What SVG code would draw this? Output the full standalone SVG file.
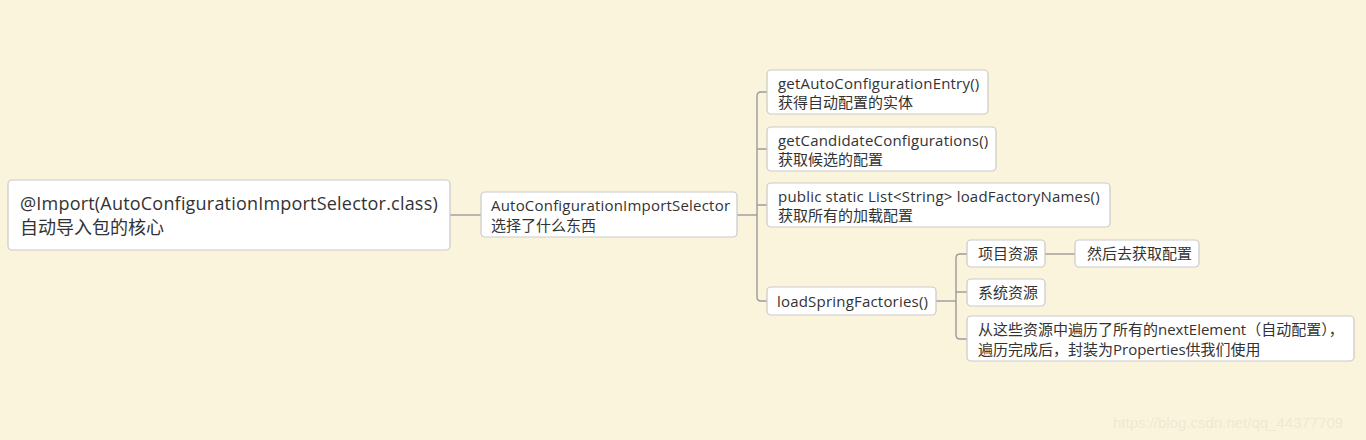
<svg xmlns="http://www.w3.org/2000/svg" width="1366" height="440" viewBox="0 0 1366 440">
<style>
.n{fill:#fff;stroke:#c9c9c9;stroke-width:1.2}
.t{font-family:"Open Sans","Noto Sans CJK SC",sans-serif;fill:#333;font-size:15px}
.big{font-size:18px}
.l{letter-spacing:0.2px}
.c{fill:none;stroke:#9a9a9a;stroke-width:1.4}
</style>
<rect width="1366" height="440" fill="#fbf4dc"/>
<g id="connectors">
<path class="c" d="M450,215H481"/>
<path class="c" d="M737,215H757"/>
<path class="c" d="M767,92H761Q757,92 757,96V297Q757,301 761,301H767"/>
<path class="c" d="M757,149H767M757,205H767"/>
<path class="c" d="M936,301H956"/>
<path class="c" d="M967,254H960Q956,254 956,258V335Q956,339 960,339H967"/>
<path class="c" d="M956,292H967"/>
<path class="c" d="M1045,254H1075"/>
</g>
<g id="root"><rect class="n" x="8" y="180" width="442" height="70" rx="4"/><text class="t big l" x="20" y="210">@Import(AutoConfigurationImportSelector.class)</text><text class="t big" x="20" y="234">自动导入包的核心</text></g>
<g id="selector"><rect class="n" x="481" y="192" width="256" height="45" rx="4"/><text class="t l" x="491" y="211">AutoConfigurationImportSelector</text><text class="t" x="491" y="231">选择了什么东西</text></g>
<g id="entry"><rect class="n" x="767" y="70" width="221" height="44" rx="4"/><text class="t l" x="778" y="89">getAutoConfigurationEntry()</text><text class="t" x="778" y="108">获得自动配置的实体</text></g>
<g id="candidate"><rect class="n" x="767" y="127" width="229" height="44" rx="4"/><text class="t l" x="778" y="146">getCandidateConfigurations()</text><text class="t" x="778" y="165">获取候选的配置</text></g>
<g id="loadnames"><rect class="n" x="767" y="183" width="343" height="44" rx="4"/><text class="t l" x="778" y="202">public static List&lt;String&gt; loadFactoryNames()</text><text class="t" x="778" y="221">获取所有的加载配置</text></g>
<g id="loadspring"><rect class="n" x="767" y="287" width="169" height="28" rx="4"/><text class="t l" x="777" y="307">loadSpringFactories()</text></g>
<g id="project"><rect class="n" x="967" y="240" width="78" height="27" rx="4"/><text class="t" x="978" y="259">项目资源</text></g>
<g id="getconfig"><rect class="n" x="1075" y="240" width="124" height="27" rx="4"/><text class="t" x="1087" y="259">然后去获取配置</text></g>
<g id="system"><rect class="n" x="967" y="279" width="78" height="27" rx="4"/><text class="t" x="978" y="298">系统资源</text></g>
<g id="traverse"><rect class="n" x="967" y="316" width="387" height="45" rx="4"/><text class="t" x="978" y="335">从这些资源中遍历了所有的nextElement（自动配置），</text><text class="t" x="978" y="355">遍历完成后，封装为Properties供我们使用</text></g>
<text x="1113" y="428" style="font-family:'Liberation Sans',sans-serif;font-size:15px;fill:#efe8d4">https://blog.csdn.net/qq_44377709</text>
</svg>
